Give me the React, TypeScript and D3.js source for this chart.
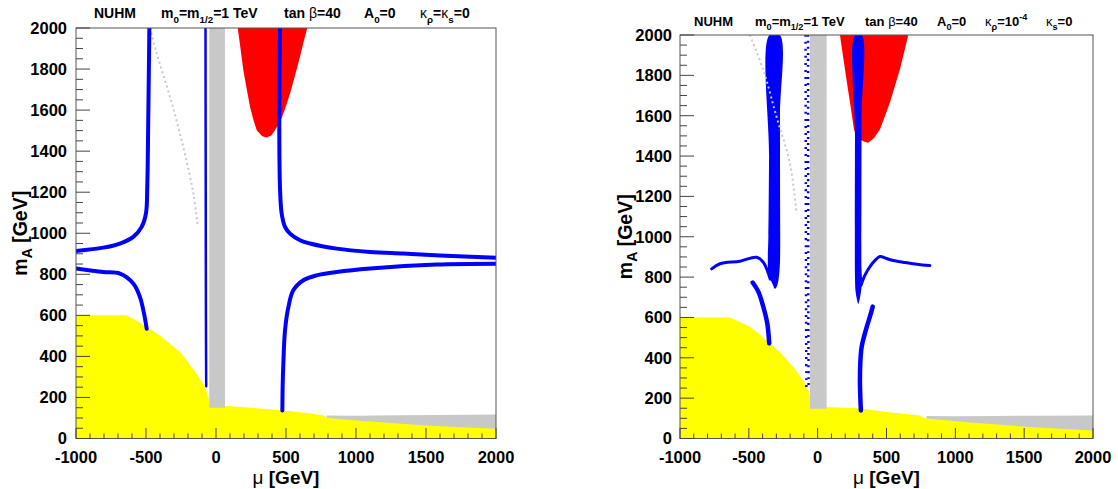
import React from 'react';
import * as d3 from 'd3';

type Pt = [number, number];

// axis ticks
const xTicks = [-1000, -500, 0, 500, 1000, 1500, 2000];
const yTicks = [0, 200, 400, 600, 800, 1000, 1200, 1400, 1600, 1800, 2000];

// ---- left panel: kappa_rho = kappa_s = 0  (mu, mA) in GeV ----
const leftYellow: Pt[] = [[-1000, 0], [-1000, 600], [-640, 600], [-590, 584], [-495, 543], [-400, 502], [-329, 462], [-257, 421], [-209, 380], [-138, 316], [-79, 250], [-55, 201], [-43, 155], [60, 160], [250, 150], [480, 137], [650, 124], [770, 112], [800, 100], [1000, 88], [1200, 78], [1500, 63], [1800, 53], [2000, 47], [2000, 0]];
const leftGreyBand: Pt[] = [[-48, 150], [-48, 2000], [64, 2000], [64, 150]];
const leftGreyBottom: Pt[] = [[790, 0], [790, 112], [1000, 111], [1300, 113], [1600, 115], [2000, 117], [2000, 0]];
const leftGreyDiag: Pt[] = [[-471, 2000], [-424, 1877], [-329, 1665], [-234, 1421], [-162, 1194], [-130, 1030]];
const leftRed: Pt[] = [[155, 2000], [175, 1900], [195, 1795], [220, 1700], [243, 1616], [268, 1550], [291, 1502], [330, 1472], [362, 1467], [395, 1476], [421, 1502], [445, 1530], [469, 1560], [500, 1620], [529, 1681], [565, 1770], [600, 1860], [625, 1930], [652, 2000]];
const leftBlueUL: Pt[] = [[-476, 2000], [-484, 1550], [-491, 1226], [-500, 1098], [-531, 1031], [-591, 982], [-686, 950], [-805, 930], [-1000, 914]];
const leftBlueLL: Pt[] = [[-1000, 828], [-805, 811], [-686, 803], [-591, 755], [-543, 689], [-514, 608], [-495, 535]];
const leftBlueVert: Pt[] = [[-75, 2000], [-74, 1500], [-73, 1000], [-72, 600], [-70, 255]];
const leftBlueUR: Pt[] = [[457, 2000], [452, 1558], [457, 1226], [469, 1096], [493, 1031], [529, 998], [600, 966], [671, 950], [862, 925], [1100, 909], [1338, 901], [1600, 892], [2000, 881]];
const leftBlueLR: Pt[] = [[2000, 852], [1576, 848], [1100, 828], [862, 811], [719, 795], [624, 771], [552, 722], [517, 640], [493, 527], [481, 364], [476, 250], [474, 137]];

// ---- right panel: kappa_rho = 1e-4, kappa_s = 0 ----
const rightYellow: Pt[] = [[-1000, 0], [-1000, 600], [-637, 600], [-590, 585], [-492, 554], [-420, 515], [-346, 471], [-274, 429], [-177, 355], [-105, 289], [-68, 239], [-50, 190], [-44, 150], [65, 156], [300, 150], [500, 131], [740, 114], [780, 100], [1080, 81], [1565, 56], [2000, 40], [2000, 0]];
const rightGreyBand: Pt[] = [[-56, 148], [-56, 2000], [65, 2000], [65, 148]];
const rightGreyBottom: Pt[] = [[790, 0], [790, 112], [1000, 110], [1300, 112], [1600, 113], [2000, 114], [2000, 0]];
const rightGreyDiag: Pt[] = [[-492, 2000], [-395, 1826], [-298, 1593], [-201, 1361], [-153, 1113]];
const rightRed: Pt[] = [[162, 2000], [180, 1915], [198, 1831], [217, 1745], [235, 1665], [250, 1595], [264, 1532], [285, 1495], [307, 1483], [335, 1472], [367, 1466], [410, 1490], [452, 1532], [490, 1600], [525, 1665], [560, 1745], [598, 1831], [628, 1915], [658, 2000]];
const rightBlueBandL: Pt[] = [[-350, 2000], [-353, 1400], [-358, 1000], [-362, 900], [-360, 830], [-351, 800], [-327, 765], [-310, 742], [-293, 760], [-282, 800], [-274, 870], [-273, 1200], [-274, 1600], [-275, 2000]];
const rightBlueWingL: Pt[] = [[-770, 841], [-709, 866], [-564, 879], [-443, 898], [-395, 874], [-366, 833], [-345, 790]];
const rightBlueLowL: Pt[] = [[-472, 773], [-431, 728], [-395, 653], [-366, 571], [-352, 471]];
const rightBlueDotsA: Pt[] = [[-88, 2000], [-86, 1200], [-84, 600], [-82, 250]];
const rightBlueDotsB: Pt[] = [[-70, 2000], [-69, 1200], [-68, 600], [-66, 260]];
const rightBlueBandR: Pt[] = [[272, 2000], [271, 1500], [270, 1000], [271, 800], [275, 730], [285, 690], [295, 667], [305, 690], [315, 730], [322, 780], [318, 850], [318, 1200], [319, 1600], [320, 2000]];
const rightBlueWingR: Pt[] = [[315, 760], [340, 805], [380, 852], [420, 885], [452, 902], [500, 892], [549, 882], [620, 874], [694, 866], [760, 860], [815, 857]];
const rightBlueLowR: Pt[] = [[400, 654], [380, 605], [356, 552], [335, 500], [319, 452], [310, 380], [307, 287], [310, 200], [314, 139]];

const FONT = '"Liberation Sans", Arial, Helvetica, sans-serif';
const BLUE = '#0000ff';
const GREY = '#c8c8c8';

type Box = { left: number; right: number; top: number; bottom: number };

type PanelProps = {
  id: string;
  box: Box;
  yTitleX: number;
  labelGap: number;
  fills: { pts: Pt[]; color: string; smooth?: boolean }[];
  dashed: { pts: Pt[]; color: string; width: number; dash: string }[];
  lines: { pts: Pt[]; width: number }[];
};

function Panel({ id, box, yTitleX, labelGap, fills, dashed, lines }: PanelProps) {
  const x = d3.scaleLinear().domain([-1000, 2000]).range([box.left, box.right]);
  const y = d3.scaleLinear().domain([0, 2000]).range([box.bottom, box.top]);
  const poly = d3.line<Pt>().x(d => x(d[0])).y(d => y(d[1]));
  const blob = d3.line<Pt>().x(d => x(d[0])).y(d => y(d[1])).curve(d3.curveCatmullRomClosed);
  const curve = d3.line<Pt>().x(d => x(d[0])).y(d => y(d[1])).curve(d3.curveCatmullRom);
  const xMinor = d3.range(-1000, 2001, 100);
  const yMinor = d3.range(0, 2001, 50);

  return (
    <g>
      <defs>
        <clipPath id={id}>
          <rect x={box.left} y={box.top} width={box.right - box.left} height={box.bottom - box.top} />
        </clipPath>
      </defs>
      <g clipPath={`url(#${id})`}>
        {fills.map((f, i) => (
          <path key={i} d={(f.smooth ? blob(f.pts) : poly(f.pts) + 'Z') || ''} fill={f.color} />
        ))}
        {dashed.map((l, i) => (
          <path key={i} d={curve(l.pts) || ''} fill="none" stroke={l.color} strokeWidth={l.width} strokeDasharray={l.dash} />
        ))}
        {lines.map((l, i) => (
          <path key={i} d={curve(l.pts) || ''} fill="none" stroke={BLUE} strokeWidth={l.width} strokeLinecap="round" strokeLinejoin="round" />
        ))}
      </g>
      <rect x={box.left} y={box.top} width={box.right - box.left} height={box.bottom - box.top} fill="none" stroke="#555" strokeWidth={1} />
      {/* y ticks */}
      {yMinor.map(v => (
        <line key={v} x1={box.left} x2={box.left + (v % 200 === 0 ? 14 : 7)} y1={y(v)} y2={y(v)} stroke="#444" strokeWidth={1} />
      ))}
      {xMinor.map(v => (
        <line key={v} x1={x(v)} x2={x(v)} y1={box.bottom} y2={box.bottom - (v % 500 === 0 ? 10.5 : 5)} stroke="#444" strokeWidth={1} />
      ))}
      {yTicks.map(v => (
        <text key={v} x={box.left - labelGap} y={y(v)} dy="0.36em" textAnchor="end" fontFamily={FONT} fontWeight="bold" fontSize={16.5}>{v}</text>
      ))}
      {xTicks.map(v => (
        <text key={v} x={x(v)} y={462.5} textAnchor="middle" fontFamily={FONT} fontWeight="bold" fontSize={16.5}>{v}</text>
      ))}
      <text x={(box.left + box.right) / 2} y={483.5} textAnchor="middle" fontFamily={FONT} fontWeight="bold" fontSize={19}>
        <tspan fontWeight="normal">μ</tspan> [GeV]
      </text>
      <text transform={`translate(${yTitleX},${(box.top + box.bottom) / 2}) rotate(-90)`} textAnchor="middle" fontFamily={FONT} fontWeight="bold" fontSize={19.5}>
        m<tspan dy={5} fontSize={14}>A</tspan><tspan dy={-5}> [GeV]</tspan>
      </text>
    </g>
  );
}

const sub = (t: string, fs: number) => <tspan dy={fs * 0.35} fontSize={fs * 0.7}>{t}</tspan>;

export default function App() {
  const leftBox: Box = { left: 76, right: 496, top: 28, bottom: 438.5 };
  const rightBox: Box = { left: 680, right: 1093, top: 35, bottom: 438.5 };
  const t1 = 14;
  const t2 = 13;
  return (
    <svg width={1118} height={489} style={{ position: 'absolute', left: 0, top: 0, background: '#fff' }}>
      <rect width={1118} height={489} fill="#fff" />
      <Panel
        id="clipL"
        box={leftBox}
        yTitleX={27}
        labelGap={9}
        fills={[
          { pts: leftGreyBottom, color: GREY },
          { pts: leftYellow, color: '#ffff00' },
          { pts: leftGreyBand, color: GREY },
          { pts: leftRed, color: '#ff0000' },
        ]}
        dashed={[{ pts: leftGreyDiag, color: GREY, width: 2, dash: '2,3' }]}
        lines={[
          { pts: leftBlueUL, width: 4 },
          { pts: leftBlueLL, width: 4 },
          { pts: leftBlueVert, width: 2.5 },
          { pts: leftBlueUR, width: 4 },
          { pts: leftBlueLR, width: 4 },
        ]}
      />
      <Panel
        id="clipR"
        box={rightBox}
        yTitleX={632}
        labelGap={8}
        fills={[
          { pts: rightGreyBottom, color: GREY },
          { pts: rightYellow, color: '#ffff00' },
          { pts: rightGreyBand, color: GREY },
          { pts: rightRed, color: '#ff0000' },
          { pts: rightBlueBandL, color: BLUE, smooth: true },
          { pts: rightBlueBandR, color: BLUE, smooth: true },
        ]}
        dashed={[
          { pts: rightGreyDiag, color: GREY, width: 2, dash: '2,3' },
          { pts: rightBlueDotsA, color: BLUE, width: 2.5, dash: '2,5' },
          { pts: rightBlueDotsB, color: BLUE, width: 2.5, dash: '2,4' },
        ]}
        lines={[
          { pts: rightBlueWingL, width: 3 },
          { pts: rightBlueLowL, width: 4.5 },
          { pts: rightBlueWingR, width: 3 },
          { pts: rightBlueLowR, width: 4.5 },
        ]}
      />
      {/* left title */}
      <g fontFamily={FONT} fontWeight="bold" fontSize={t1}>
        <text x={94} y={18}>NUHM</text>
        <text x={161} y={18}>m{sub('0', t1)}<tspan dy={-t1 * 0.35}>=m</tspan>{sub('1/2', t1)}<tspan dy={-t1 * 0.35}>=1 TeV</tspan></text>
        <text x={284} y={18}>tan <tspan fontWeight="normal">β</tspan>=40</text>
        <text x={364} y={18}>A{sub('0', t1)}<tspan dy={-t1 * 0.35}>=0</tspan></text>
        <text x={420} y={18}><tspan fontWeight="normal">κ</tspan>{sub('ρ', t1)}<tspan dy={-t1 * 0.35}>=</tspan><tspan fontWeight="normal">κ</tspan>{sub('s', t1)}<tspan dy={-t1 * 0.35}>=0</tspan></text>
      </g>
      {/* right title */}
      <g fontFamily={FONT} fontWeight="bold" fontSize={t2}>
        <text x={694} y={25.5}>NUHM</text>
        <text x={755} y={25.5}>m{sub('0', t2)}<tspan dy={-t2 * 0.35}>=m</tspan>{sub('1/2', t2)}<tspan dy={-t2 * 0.35}>=1 TeV</tspan></text>
        <text x={865} y={25.5}>tan <tspan fontWeight="normal">β</tspan>=40</text>
        <text x={937} y={25.5}>A{sub('0', t2)}<tspan dy={-t2 * 0.35}>=0</tspan></text>
        <text x={985} y={25.5}><tspan fontWeight="normal">κ</tspan>{sub('ρ', t2)}<tspan dy={-t2 * 0.35}>=10</tspan><tspan dy={-t2 * 0.4} fontSize={t2 * 0.7}>-4</tspan></text>
        <text x={1046} y={25.5}><tspan fontWeight="normal">κ</tspan>{sub('s', t2)}<tspan dy={-t2 * 0.35}>=0</tspan></text>
      </g>
    </svg>
  );
}
